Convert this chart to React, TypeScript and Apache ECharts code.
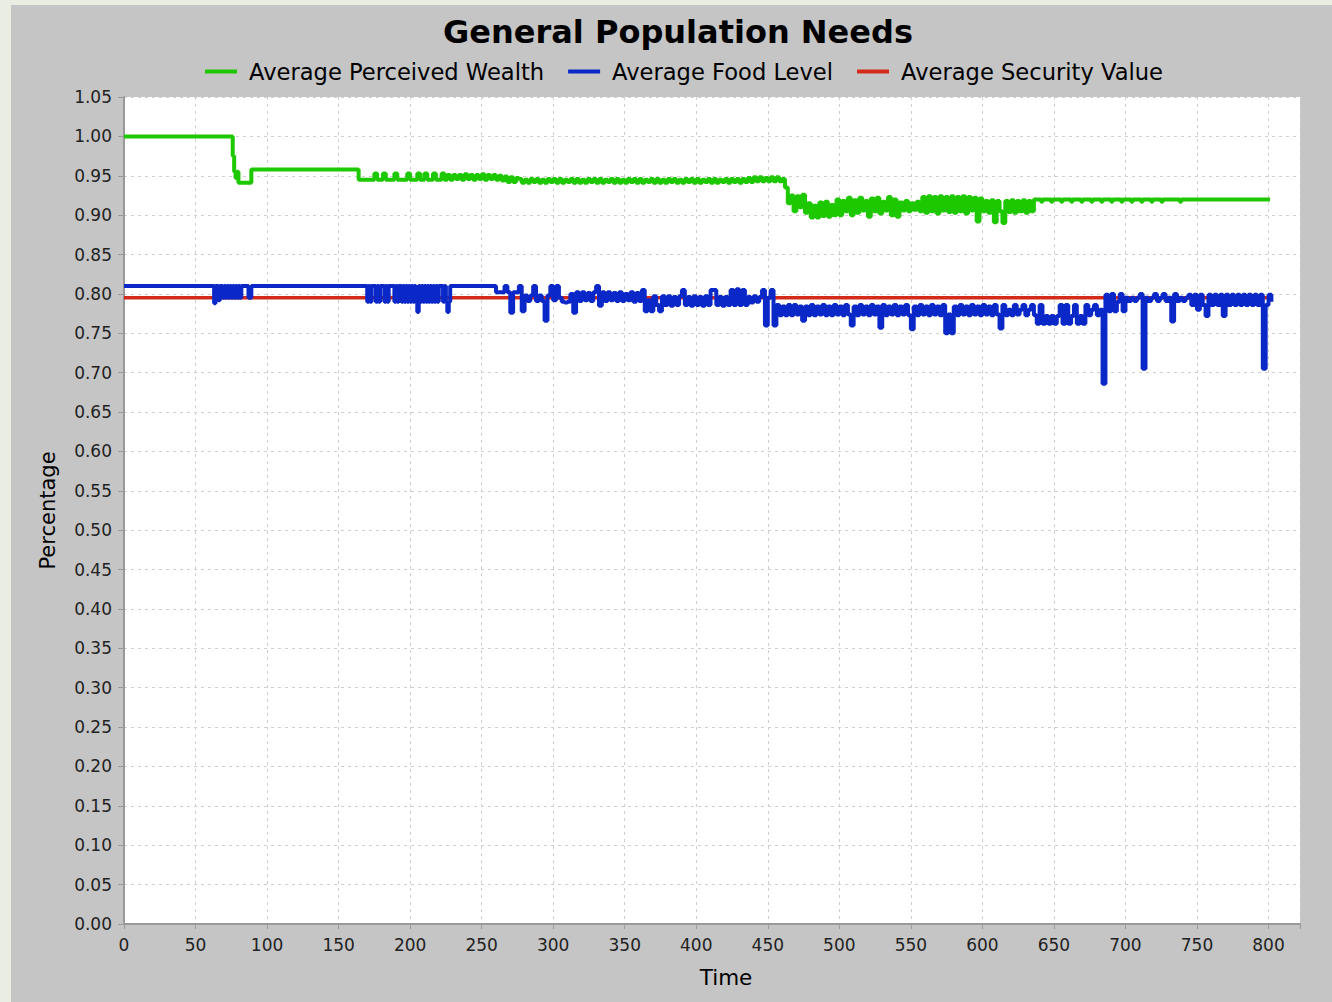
import React, { useEffect, useRef } from "react";
import * as echarts from "echarts";

const TITLE = "General Population Needs";
const NAME_WEALTH = "Average Perceived Wealth";
const NAME_FOOD = "Average Food Level";
const NAME_SECURITY = "Average Security Value";
const X_NAME = "Time";
const Y_NAME = "Percentage";

const X_MIN = 0;
const X_MAX = 822;
const X_STEP = 50;
const Y_MIN = 0;
const Y_MAX = 1.05;
const Y_STEP = 0.05;

// ---- Average Perceived Wealth (green) ----
const wealthEarly: [number, number][] = [
  [0, 1.0], [76, 0.975], [77, 0.955], [78, 0.947], [79, 0.955], [80, 0.941],
  [89, 0.958], [164, 0.945], [175, 0.953], [177, 0.945], [181, 0.953], [183, 0.945],
  [189, 0.953], [191, 0.945], [198, 0.953], [200, 0.945], [205, 0.953], [207, 0.945],
  [210, 0.953], [212, 0.945], [216, 0.953], [218, 0.945], [222, 0.953], [224, 0.945],
];
// t = 226, 228, ... 460
const wealthBandStart = 226;
const wealthBand = [
  0.951, 0.945, 0.951, 0.946, 0.951, 0.945, 0.952, 0.946, 0.951, 0.945,
  0.951, 0.946, 0.952, 0.945, 0.951, 0.946, 0.951, 0.945, 0.95, 0.944,
  0.949, 0.942, 0.948, 0.942, 0.947,
  0.946, 0.941, 0.945, 0.941, 0.946, 0.942, 0.946, 0.941, 0.945, 0.941,
  0.946, 0.942, 0.946, 0.941, 0.946, 0.941, 0.945, 0.942, 0.946, 0.941,
  0.946, 0.941, 0.945, 0.941, 0.946, 0.942, 0.946, 0.941, 0.946, 0.941,
  0.945, 0.942, 0.946, 0.941, 0.946, 0.941, 0.945, 0.941, 0.946, 0.942,
  0.946, 0.941, 0.946, 0.941, 0.945, 0.942, 0.946, 0.941, 0.946, 0.941,
  0.945, 0.941, 0.946, 0.942, 0.946, 0.941, 0.945, 0.941, 0.946, 0.942,
  0.946, 0.941, 0.946, 0.941, 0.945, 0.942, 0.946, 0.941, 0.946, 0.941,
  0.945, 0.942, 0.946, 0.941, 0.946, 0.942, 0.946, 0.941, 0.946, 0.942,
  0.947, 0.942, 0.948, 0.943, 0.948, 0.943, 0.947, 0.943, 0.948, 0.943,
  0.948, 0.943, 0.946,
];
// t = 462, 464, ... 634
const wealthNoiseStart = 462;
const wealthNoise = [
  0.935, 0.915, 0.925, 0.905, 0.924, 0.91, 0.926, 0.903, 0.915, 0.897,
  0.912, 0.897, 0.916, 0.899, 0.917, 0.898, 0.913, 0.9, 0.92, 0.9,
  0.918, 0.905, 0.922, 0.9, 0.919, 0.903, 0.922, 0.906, 0.918, 0.898,
  0.921, 0.905, 0.922, 0.902, 0.917, 0.906, 0.923, 0.9, 0.92, 0.898,
  0.916, 0.906, 0.918, 0.905, 0.915, 0.907, 0.917, 0.905, 0.923, 0.903,
  0.924, 0.905, 0.923, 0.902, 0.924, 0.906, 0.923, 0.904, 0.924, 0.903,
  0.923, 0.905, 0.924, 0.902, 0.923, 0.906, 0.922, 0.892, 0.921, 0.905,
  0.918, 0.903, 0.919, 0.891, 0.918, 0.905, 0.89, 0.918, 0.904, 0.919,
  0.903, 0.918, 0.905, 0.919, 0.903, 0.918, 0.905,
];
const wealthLate: [number, number][] = [
  [636, 0.92], [641, 0.917], [642, 0.92], [648, 0.917], [649, 0.92], [655, 0.917],
  [656, 0.92], [662, 0.917], [663, 0.92], [669, 0.917], [670, 0.92], [676, 0.917],
  [677, 0.92], [683, 0.917], [684, 0.92], [690, 0.917], [691, 0.92], [697, 0.917],
  [698, 0.92], [704, 0.917], [705, 0.92], [711, 0.917], [712, 0.92], [718, 0.917],
  [719, 0.92], [725, 0.917], [726, 0.92], [738, 0.917], [739, 0.92], [801, 0.92],
];

// ---- Average Food Level (blue) ----
const foodEarly: [number, number][] = [
  [0, 0.81], [63, 0.788], [64, 0.81], [66, 0.792], [67, 0.81], [69, 0.795], [70, 0.81],
  [71, 0.795], [72, 0.81], [73, 0.795], [74, 0.81], [75, 0.795], [76, 0.81], [77, 0.795],
  [78, 0.81], [79, 0.795], [80, 0.81], [81, 0.795], [82, 0.81], [87, 0.795], [89, 0.81],
  [170, 0.79], [171, 0.81], [172, 0.79], [173, 0.81], [176, 0.79], [177, 0.81], [178, 0.79],
  [179, 0.81], [182, 0.79], [183, 0.81], [184, 0.79], [185, 0.81], [189, 0.79], [190, 0.81],
  [191, 0.79], [192, 0.81], [194, 0.79], [195, 0.81], [196, 0.79], [197, 0.81], [198, 0.79],
  [199, 0.81], [200, 0.79], [201, 0.81], [202, 0.79], [203, 0.81], [204, 0.79], [205, 0.777],
  [206, 0.81], [207, 0.79], [208, 0.81], [209, 0.79], [210, 0.81], [211, 0.79], [212, 0.81],
  [213, 0.79], [214, 0.81], [215, 0.79], [216, 0.81], [217, 0.79], [218, 0.81], [219, 0.79],
  [220, 0.81], [223, 0.79], [224, 0.81], [225, 0.79], [226, 0.777], [227, 0.79], [228, 0.81],
];
// t = 258, 260, ... 802
const foodNoiseStart = 258;
const foodNoise = [
  0.81, 0.802, 0.802, 0.802, 0.81, 0.802, 0.776, 0.802, 0.802, 0.81,
  0.778, 0.798, 0.791, 0.798, 0.81, 0.791, 0.798, 0.791, 0.766, 0.798,
  0.81, 0.792, 0.81, 0.795, 0.79, 0.789, 0.79, 0.8, 0.776, 0.802,
  0.791, 0.802, 0.792, 0.801, 0.791, 0.802, 0.81, 0.785, 0.802, 0.791,
  0.802, 0.792, 0.801, 0.791, 0.802, 0.791, 0.8, 0.792, 0.802, 0.79,
  0.801, 0.791, 0.805, 0.778, 0.792, 0.778, 0.797, 0.786, 0.778, 0.797,
  0.786, 0.797, 0.785, 0.796, 0.786, 0.797, 0.805, 0.786, 0.796, 0.785,
  0.797, 0.786, 0.796, 0.785, 0.797, 0.786, 0.805, 0.805, 0.786, 0.796,
  0.785, 0.796, 0.786, 0.805, 0.786, 0.806, 0.786, 0.805, 0.786, 0.796,
  0.789, 0.797, 0.79, 0.796, 0.805, 0.76, 0.795, 0.805, 0.76, 0.786,
  0.773, 0.784, 0.773, 0.786, 0.773, 0.786, 0.774, 0.784, 0.766, 0.784,
  0.773, 0.786, 0.773, 0.784, 0.774, 0.786, 0.773, 0.784, 0.773, 0.786,
  0.774, 0.784, 0.773, 0.786, 0.774, 0.76, 0.784, 0.773, 0.786, 0.774,
  0.784, 0.773, 0.786, 0.774, 0.784, 0.757, 0.786, 0.773, 0.784, 0.774,
  0.786, 0.773, 0.784, 0.774, 0.786, 0.773, 0.755, 0.784, 0.773, 0.786,
  0.774, 0.784, 0.773, 0.786, 0.774, 0.784, 0.773, 0.786, 0.75, 0.774,
  0.75, 0.784, 0.773, 0.786, 0.774, 0.784, 0.773, 0.786, 0.774, 0.784,
  0.773, 0.786, 0.774, 0.784, 0.773, 0.786, 0.774, 0.756, 0.786, 0.773,
  0.78, 0.773, 0.786, 0.774, 0.78, 0.786, 0.773, 0.78, 0.786, 0.773,
  0.762, 0.786, 0.762, 0.772, 0.762, 0.772, 0.762, 0.772, 0.786, 0.762,
  0.786, 0.762, 0.772, 0.786, 0.762, 0.772, 0.762, 0.786, 0.773, 0.78,
  0.786, 0.773, 0.78, 0.686, 0.799, 0.778, 0.8, 0.778, 0.79, 0.8,
  0.778, 0.795, 0.791, 0.795, 0.791, 0.795, 0.8, 0.705, 0.795, 0.791,
  0.795, 0.8, 0.791, 0.795, 0.8, 0.791, 0.795, 0.765, 0.8, 0.791,
  0.795, 0.791, 0.795, 0.799, 0.786, 0.799, 0.78, 0.799, 0.786, 0.772,
  0.799, 0.786, 0.799, 0.786, 0.799, 0.772, 0.799, 0.786, 0.799, 0.786,
  0.799, 0.786, 0.799, 0.786, 0.799, 0.786, 0.799, 0.786, 0.799, 0.705,
  0.786, 0.799, 0.79,
];

// ---- Average Security Value (red) ----
const securityData: [number, number][] = [
  [0, 0.795], [801, 0.795],
];

const FONT = "DejaVu Sans";

function listToPoints(start: number, step: number, values: number[]): [number, number][] {
  return values.map((v, i) => [start + i * step, v]);
}

export default function App() {
  const ref = useRef<HTMLDivElement>(null);

  useEffect(() => {
    if (!ref.current) return;
    const chart = echarts.init(ref.current, undefined, { renderer: "svg" });

    const wealthData = [
      ...wealthEarly,
      ...listToPoints(wealthBandStart, 2, wealthBand),
      ...listToPoints(wealthNoiseStart, 2, wealthNoise),
      ...wealthLate,
    ];
    const foodData = [...foodEarly, ...listToPoints(foodNoiseStart, 2, foodNoise)];

    chart.setOption({
      animation: false,
      backgroundColor: "#c5c5c5",
      title: {
        text: TITLE,
        left: 427,
        top: 6,
        textStyle: { fontFamily: FONT, fontWeight: "bold", fontSize: 32, color: "#000" },
      },
      legend: {
        data: [NAME_WEALTH, NAME_FOOD, NAME_SECURITY],
        left: 189,
        top: 50,
        icon: "rect",
        itemWidth: 32,
        itemHeight: 4,
        itemGap: 24,
        textStyle: { fontFamily: FONT, fontSize: 22.6, color: "#000", padding: [0, 0, 0, 7] },
      },
      grid: {
        left: 113,
        right: 32,
        top: 92,
        bottom: 78,
        show: true,
        backgroundColor: "#ffffff",
        borderWidth: 0,
      },
      xAxis: {
        type: "value",
        min: X_MIN,
        max: X_MAX,
        interval: X_STEP,
        name: X_NAME,
        nameLocation: "middle",
        nameGap: 42,
        nameTextStyle: { fontFamily: FONT, fontSize: 21.5, color: "#000", padding: [0, 0, 0, 28] },
        axisLine: { show: true, onZero: false, lineStyle: { color: "#999", width: 2 } },
        axisTick: { show: true, length: 5, lineStyle: { color: "#999" } },
        axisLabel: {
          margin: 12,
          fontFamily: FONT,
          fontSize: 17,
          color: "#222",
          formatter: (v: number) => (v % X_STEP === 0 ? String(v) : ""),
        },
        splitLine: { show: true, lineStyle: { color: "#cfcfcf", type: [3, 4], width: 1 } },
      },
      yAxis: {
        type: "value",
        min: Y_MIN,
        max: Y_MAX,
        interval: Y_STEP,
        name: Y_NAME,
        nameLocation: "middle",
        nameGap: 66,
        nameTextStyle: { fontFamily: FONT, fontSize: 21, color: "#000" },
        axisLine: { show: true, lineStyle: { color: "#999", width: 2 } },
        axisTick: { show: true, length: 6, lineStyle: { color: "#999" } },
        axisLabel: {
          margin: 12,
          fontFamily: FONT,
          fontSize: 17,
          color: "#222",
          formatter: (v: number) => v.toFixed(2),
        },
        splitLine: { show: true, lineStyle: { color: "#cfcfcf", type: [3, 4], width: 1 } },
      },
      series: [
        {
          name: NAME_SECURITY,
          type: "line",
          step: "end",
          symbol: "none",
          showSymbol: false,
          data: securityData,
          lineStyle: { color: "#d42a1a", width: 3.5 },
          itemStyle: { color: "#d42a1a" },
          z: 2,
        },
        {
          name: NAME_FOOD,
          type: "line",
          step: "end",
          symbol: "none",
          showSymbol: false,
          data: foodData,
          lineStyle: { color: "#0a28c8", width: 4 },
          itemStyle: { color: "#0a28c8" },
          z: 3,
        },
        {
          name: NAME_WEALTH,
          type: "line",
          step: "end",
          symbol: "none",
          showSymbol: false,
          data: wealthData,
          lineStyle: { color: "#1ec800", width: 4 },
          itemStyle: { color: "#1ec800" },
          z: 4,
        },
      ],
    });

    return () => chart.dispose();
  }, []);

  return (
    <div
      style={{
        position: "fixed",
        left: 0,
        top: 0,
        width: 1332,
        height: 1002,
        background: "#eaede1",
        overflow: "hidden",
      }}
    >
      <div
        ref={ref}
        style={{ position: "absolute", left: 11, top: 5, width: 1321, height: 997 }}
      />
    </div>
  );
}
